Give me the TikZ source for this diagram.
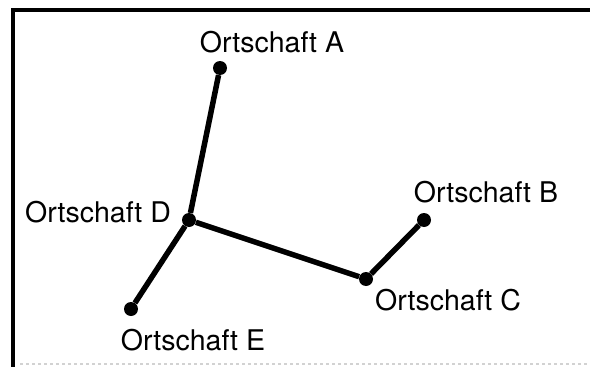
\documentclass[tikz,border=0pt]{standalone}
\usepackage{fontspec}
\setmainfont{TeX Gyre Heros}
\usepackage{tikz}

\tikzset{
  ort/.style={circle, fill=black, inner sep=0pt, minimum size=14pt},
  weg/.style={line width=5.5pt},
  ortlabel/.style={font=\fontsize{28.5}{31}\selectfont, inner sep=0pt}
}

\begin{document}
\begin{tikzpicture}[x=1pt, y=-1pt]
        \useasboundingbox (0,0) rectangle (590,367);
        % Rahmen (rechts und unten abgeschnitten)
        \draw[line width=3.5pt] (590,10) -- (13,10) -- (13,367);
        \draw[line width=1.5pt, gray!35, dashed] (20,364) -- (590,364);
        % Ortschaften
        \node[ort] (A) at (220, 68) {};
        \node[ort] (B) at (424,220) {};
        \node[ort] (C) at (366,279) {};
        \node[ort] (D) at (189,220) {};
        \node[ort] (E) at (131,309) {};
        % Beschriftungen
        \node[ortlabel] (lA) at (272, 42) {Ortschaft A};
        \node[ortlabel] (lB) at (486,192) {Ortschaft B};
        \node[ortlabel] (lC) at (448,300) {Ortschaft C};
        \node[ortlabel] (lD) at ( 98,212) {Ortschaft D};
        \node[ortlabel] (lE) at (193,340) {Ortschaft E};
        % Verbindungen
        \draw[weg] (A) -- (D);
        \draw[weg] (D) -- (E);
        \draw[weg] (D) -- (C);
        \draw[weg] (C) -- (B);
    \end{tikzpicture}
\end{document}
